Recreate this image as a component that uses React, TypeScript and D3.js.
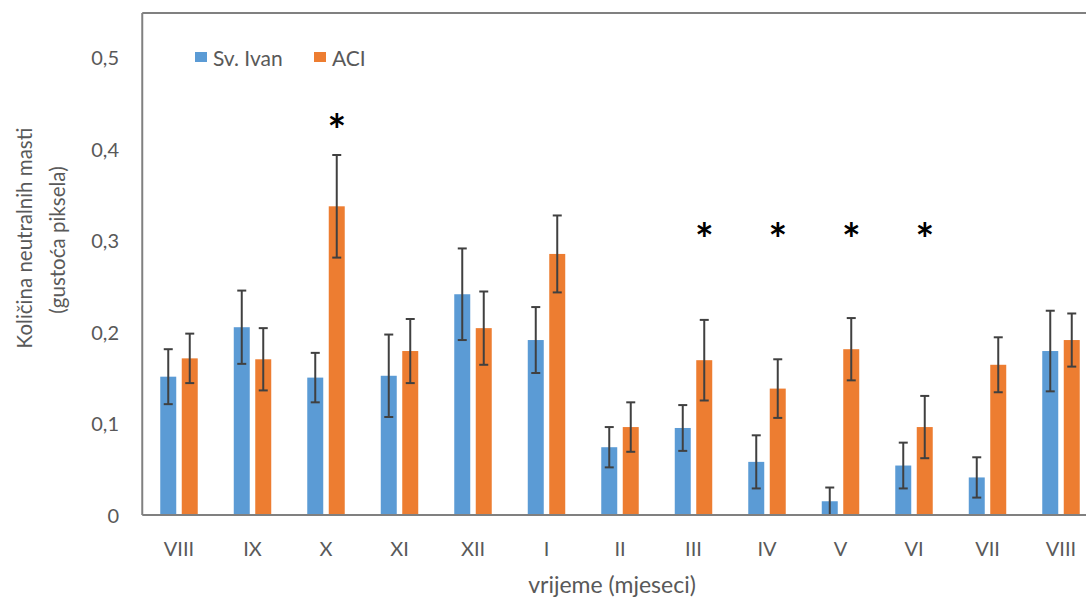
import React from "react";
import * as d3 from "d3";

const categories = ["VIII", "IX", "X", "XI", "XII", "I", "II", "III", "IV", "V", "VI", "VII", "VIII"];
const seriesNames = ["Sv. Ivan", "ACI"];
const svIvan = [0.151, 0.205, 0.150, 0.152, 0.241, 0.191, 0.074, 0.095, 0.058, 0.015, 0.054, 0.041, 0.179];
const svIvanErr = [0.030, 0.040, 0.027, 0.045, 0.050, 0.036, 0.022, 0.025, 0.029, 0.015, 0.025, 0.022, 0.044];
const aci = [0.171, 0.170, 0.337, 0.179, 0.204, 0.285, 0.096, 0.169, 0.138, 0.181, 0.096, 0.164, 0.191];
const aciErr = [0.027, 0.034, 0.056, 0.035, 0.040, 0.042, 0.027, 0.044, 0.032, 0.034, 0.034, 0.030, 0.029];
const sigIndex = [2, 7, 8, 9, 10];
const sigLevel = [0.429, 0.31, 0.31, 0.31, 0.31];
const yTicks = [0, 0.1, 0.2, 0.3, 0.4, 0.5];

const W = 1086;
const H = 598;
const FONT = "Lato, 'Open Sans', sans-serif";
const COLORS = ["#5B9BD5", "#ED7D31"];

export default function App() {
  const left = 142.25;
  const right = left + 13 * 73.5;
  const top = 13;
  const baseY = 515;

  const x0 = d3
    .scaleBand<number>()
    .domain(categories.map((_, i) => i))
    .range([left, right])
    .paddingInner(0.49)
    .paddingOuter(0.245);
  const x1 = d3
    .scaleBand<number>()
    .domain([0, 1])
    .range([0, x0.bandwidth()])
    .paddingInner(0.256);
  const y = d3.scaleLinear().domain([0, 0.5]).range([baseY, baseY - 458]);

  const series = [
    { vals: svIvan, errs: svIvanErr },
    { vals: aci, errs: aciErr },
  ];

  const fmt = (v: number) => (v === 0 ? "0" : d3.format(".1f")(v).replace(".", ","));

  return (
    <svg
      width={W}
      height={H}
      style={{ position: "absolute", left: 0, top: 0, background: "#fff" }}
      fontFamily={FONT}
    >
      {/* frame */}
      <line x1={left} x2={W} y1={top} y2={top} stroke="#808080" strokeWidth={2} />
      <line x1={left} x2={left} y1={top} y2={baseY} stroke="#808080" strokeWidth={2} />

      {/* bars */}
      {series.map((s, si) =>
        s.vals.map((v, i) => {
          const bx = (x0(i) as number) + (x1(si) as number);
          const bw = x1.bandwidth();
          return (
            <rect
              key={`b${si}-${i}`}
              x={bx}
              y={y(v)}
              width={bw}
              height={baseY - y(v)}
              fill={COLORS[si]}
            />
          );
        })
      )}

      {/* error bars */}
      {series.map((s, si) =>
        s.vals.map((v, i) => {
          const cx = (x0(i) as number) + (x1(si) as number) + x1.bandwidth() / 2;
          const yt = y(v + s.errs[i]);
          const yb = y(Math.max(0, v - s.errs[i]));
          return (
            <g key={`e${si}-${i}`} stroke="#404040" strokeWidth={2}>
              <line x1={cx} x2={cx} y1={yt} y2={yb} />
              <line x1={cx - 4.5} x2={cx + 4.5} y1={yt} y2={yt} />
              <line x1={cx - 4.5} x2={cx + 4.5} y1={yb} y2={yb} />
            </g>
          );
        })
      )}

      {/* x axis line */}
      <line x1={left} x2={W} y1={baseY} y2={baseY} stroke="#808080" strokeWidth={2} />

      {/* y tick labels */}
      {yTicks.map((t) => (
        <text
          key={`yt${t}`}
          x={119}
          y={y(t)}
          textAnchor="end"
          dominantBaseline="central"
          fontSize={20}
          fill="#595959"
        >
          {fmt(t)}
        </text>
      ))}

      {/* x tick labels */}
      {categories.map((c, i) => (
        <text
          key={`xt${i}`}
          x={(x0(i) as number) + x0.bandwidth() / 2}
          y={548}
          textAnchor="middle"
          dominantBaseline="central"
          fontSize={20}
          fill="#595959"
        >
          {c}
        </text>
      ))}

      {/* significance */}
      {sigIndex.map((idx, k) => (
        <text
          key={`s${k}`}
          x={(x0(idx) as number) + (x1(1) as number) + x1.bandwidth() / 2}
          y={y(sigLevel[k]) + 24}
          textAnchor="middle"
          fontSize={44}
          fontWeight="bold"
          fill="#000"
        >
          *
        </text>
      ))}

      {/* legend */}
      {seriesNames.map((n, i) => {
        const lx = [195, 314][i];
        return (
          <g key={`l${i}`}>
            <rect x={lx} y={52} width={12} height={10} fill={COLORS[i]} />
            <text x={lx + 18} y={57} dominantBaseline="central" fontSize={21} fill="#595959">
              {n}
            </text>
          </g>
        );
      })}

      {/* axis titles */}
      <text x={612} y={593} textAnchor="middle" fontSize={23} fill="#595959">
        vrijeme (mjeseci)
      </text>
      <text
        transform={`translate(24,238) rotate(-90)`}
        textAnchor="middle"
        dominantBaseline="central"
        fontSize={20.5}
        fill="#595959"
      >
        Količina neutralnih masti
      </text>
      <text
        transform={`translate(57,240) rotate(-90)`}
        textAnchor="middle"
        dominantBaseline="central"
        fontSize={20.5}
        fill="#595959"
      >
        (gustoća piksela)
      </text>
    </svg>
  );
}
